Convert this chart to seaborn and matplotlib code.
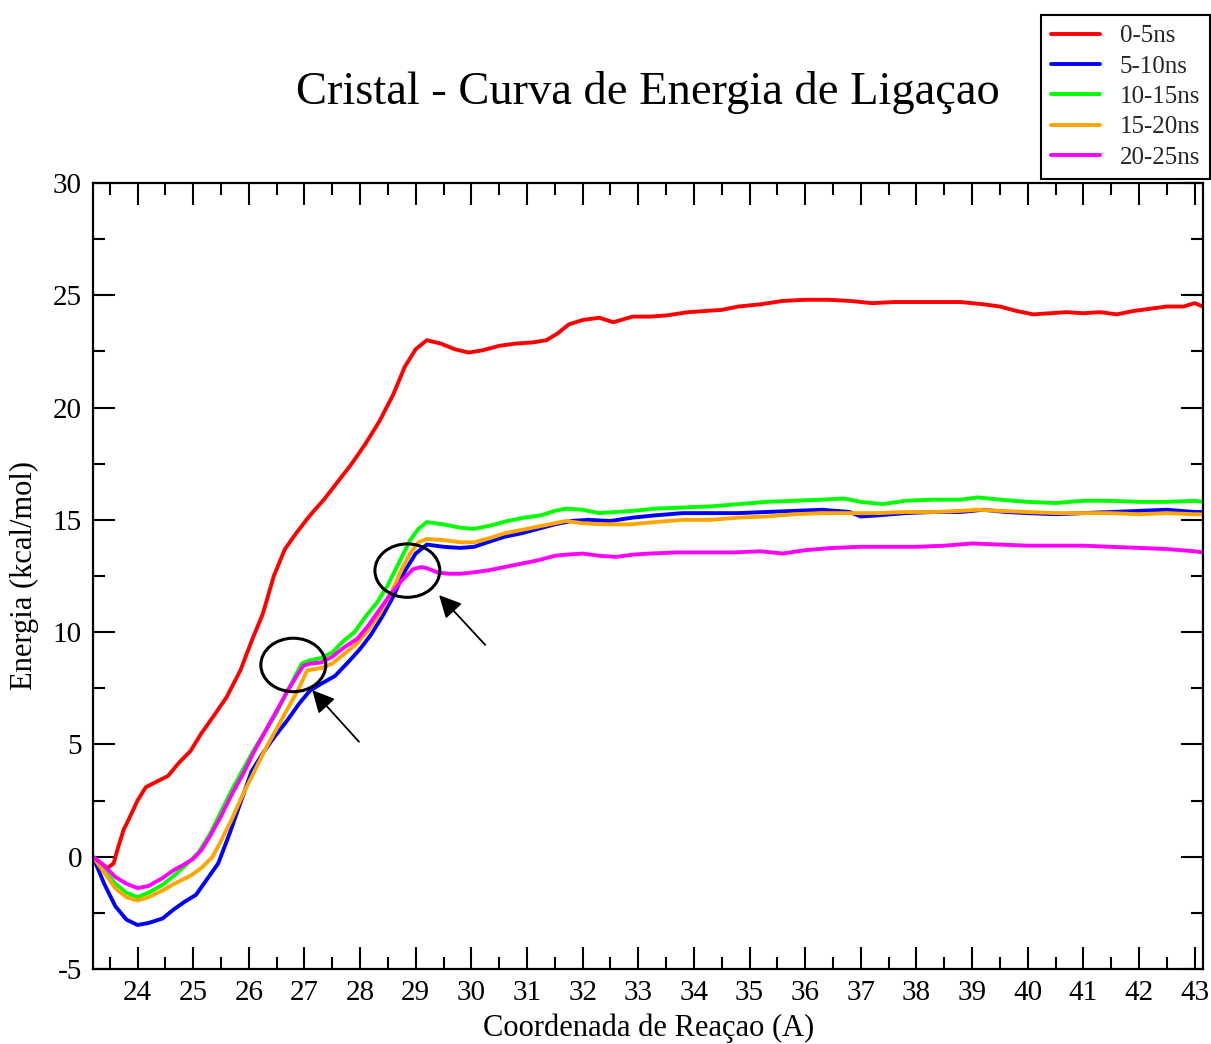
import numpy as np
import pandas as pd
import seaborn as sns
import matplotlib.pyplot as plt
from matplotlib.patches import Ellipse
from matplotlib.ticker import MultipleLocator

# Binding-energy profiles (kcal/mol) along the reaction coordinate (A), one per time window
x_0_5 = [23.2, 23.35, 23.46, 23.57, 23.65, 23.75, 23.85, 24.0, 24.15, 24.35, 24.55, 24.75, 24.95,
         25.15, 25.35, 25.6, 25.85, 26.05, 26.25, 26.45, 26.65, 26.85, 27.1, 27.35, 27.6, 27.85,
         28.1, 28.35, 28.6, 28.8, 29.0, 29.2, 29.45, 29.7, 29.95, 30.2, 30.5, 30.8, 31.1, 31.35,
         31.55, 31.75, 32.0, 32.3, 32.55, 32.9, 33.2, 33.5, 33.9, 34.2, 34.5, 34.8, 35.2, 35.6,
         36.0, 36.4, 36.8, 37.2, 37.6, 38.0, 38.4, 38.8, 39.2, 39.5, 39.8, 40.1, 40.4, 40.7, 41.0,
         41.3, 41.6, 41.9, 42.2, 42.5, 42.8, 43.0, 43.15]
e_0_5 = [0.0, -0.3, -0.5, -0.3, 0.4, 1.2, 1.7, 2.5, 3.1, 3.35, 3.6, 4.2, 4.7,
         5.5, 6.2, 7.1, 8.3, 9.6, 10.8, 12.5, 13.7, 14.4, 15.2, 15.9, 16.7, 17.5,
         18.4, 19.4, 20.6, 21.8, 22.6, 23.0, 22.85, 22.6, 22.45, 22.55, 22.75, 22.85, 22.9, 23.0,
         23.3, 23.7, 23.9, 24.0, 23.8, 24.05, 24.05, 24.1, 24.25, 24.3, 24.35, 24.5, 24.6, 24.75,
         24.8, 24.8, 24.75, 24.65, 24.7, 24.7, 24.7, 24.7, 24.6, 24.5, 24.3, 24.15, 24.2, 24.25, 24.2,
         24.25, 24.15, 24.3, 24.4, 24.5, 24.5, 24.65, 24.5]

x_5_10 = [23.2, 23.4, 23.6, 23.8, 24.0, 24.2, 24.45, 24.65, 24.85, 25.05, 25.25, 25.45, 25.65,
          25.85, 26.05, 26.25, 26.45, 26.7, 26.9, 27.1, 27.3, 27.55, 27.8, 28.0, 28.2, 28.4, 28.6,
          28.8, 29.0, 29.2, 29.5, 29.8, 30.05, 30.35, 30.6, 30.9, 31.2, 31.5, 31.8, 32.1, 32.5,
          32.9, 33.3, 33.8, 34.3, 34.8, 35.3, 35.8, 36.3, 36.8, 37.0, 37.3, 37.8, 38.3, 38.8, 39.2,
          39.6, 40.0, 40.5, 41.0, 41.5, 42.0, 42.5, 43.0, 43.15]
e_5_10 = [0.0, -1.2, -2.2, -2.8, -3.04, -2.95, -2.75, -2.35, -2.0, -1.7, -1.0, -0.3, 1.0,
          2.4, 3.8, 4.6, 5.3, 6.1, 6.8, 7.4, 7.7, 8.05, 8.7, 9.25, 9.9, 10.7, 11.6,
          12.7, 13.5, 13.9, 13.8, 13.75, 13.8, 14.05, 14.25, 14.4, 14.6, 14.8, 14.95, 15.0, 14.95,
          15.1, 15.2, 15.3, 15.3, 15.3, 15.35, 15.4, 15.45, 15.35, 15.15, 15.2, 15.3, 15.35, 15.35, 15.45,
          15.35, 15.3, 15.25, 15.3, 15.35, 15.4, 15.45, 15.35, 15.35]

x_10_15 = [23.2, 23.4, 23.6, 23.8, 24.0, 24.2, 24.45, 24.7, 24.9, 25.1, 25.3, 25.5, 25.7, 25.9,
           26.1, 26.3, 26.5, 26.7, 26.95, 27.1, 27.3, 27.5, 27.7, 27.9, 28.1, 28.3, 28.5, 28.7,
           28.9, 29.05, 29.2, 29.5, 29.8, 30.05, 30.35, 30.65, 30.95, 31.25, 31.5, 31.7, 32.0, 32.3,
           32.6, 32.9, 33.3, 33.8, 34.3, 34.8, 35.3, 35.8, 36.3, 36.7, 37.0, 37.4, 37.8, 38.3, 38.8,
           39.1, 39.5, 40.0, 40.5, 41.0, 41.5, 42.0, 42.5, 43.0, 43.15]
e_10_15 = [0.0, -0.6, -1.2, -1.6, -1.8, -1.6, -1.25, -0.75, -0.3, 0.2, 1.0, 2.0, 3.0, 3.9,
           4.8, 5.6, 6.4, 7.4, 8.6, 8.75, 8.85, 9.1, 9.6, 10.0, 10.7, 11.3, 12.1, 13.1,
           14.1, 14.6, 14.9, 14.8, 14.65, 14.6, 14.75, 14.95, 15.1, 15.2, 15.4, 15.5, 15.45, 15.3,
           15.35, 15.4, 15.5, 15.55, 15.6, 15.7, 15.8, 15.85, 15.9, 15.95, 15.8, 15.7, 15.85, 15.9, 15.9,
           16.0, 15.9, 15.8, 15.75, 15.85, 15.85, 15.8, 15.8, 15.85, 15.8]

x_15_20 = [23.2, 23.4, 23.6, 23.8, 24.0, 24.2, 24.45, 24.7, 24.95, 25.15, 25.35, 25.5, 25.7, 25.9,
           26.1, 26.3, 26.5, 26.7, 26.9, 27.05, 27.3, 27.5, 27.7, 27.95, 28.15, 28.35, 28.55, 28.75,
           28.9, 29.05, 29.2, 29.5, 29.8, 30.05, 30.35, 30.6, 30.9, 31.2, 31.5, 31.7, 32.0, 32.4,
           32.85, 33.3, 33.8, 34.3, 34.8, 35.3, 35.8, 36.3, 36.8, 37.3, 37.8, 38.3, 38.8, 39.1, 39.5,
           40.0, 40.5, 41.0, 41.5, 42.0, 42.5, 43.0, 43.15]
e_15_20 = [0.0, -0.7, -1.4, -1.8, -1.95, -1.8, -1.5, -1.15, -0.85, -0.5, 0.0, 0.7, 1.7, 2.8,
           3.8, 4.8, 5.7, 6.6, 7.5, 8.3, 8.4, 8.6, 9.0, 9.5, 10.1, 10.8, 11.7, 12.8,
           13.5, 14.0, 14.15, 14.1, 14.0, 14.0, 14.2, 14.4, 14.55, 14.7, 14.85, 14.95, 14.85, 14.8,
           14.8, 14.9, 15.0, 15.0, 15.1, 15.15, 15.25, 15.3, 15.3, 15.3, 15.35, 15.35, 15.4, 15.45, 15.4,
           15.35, 15.3, 15.3, 15.3, 15.25, 15.3, 15.25, 15.25]

x_20_25 = [23.2, 23.4, 23.6, 23.8, 24.0, 24.2, 24.45, 24.65, 24.8, 25.0, 25.15, 25.3, 25.5, 25.7,
           25.9, 26.1, 26.3, 26.5, 26.7, 26.85, 26.98, 27.1, 27.3, 27.5, 27.7, 27.95, 28.15, 28.35,
           28.55, 28.75, 28.95, 29.1, 29.2, 29.4, 29.6, 29.8, 30.0, 30.3, 30.6, 30.9, 31.2, 31.5,
           31.7, 32.0, 32.3, 32.6, 32.9, 33.2, 33.7, 34.2, 34.7, 35.2, 35.6, 36.0, 36.5, 37.0, 37.5,
           38.0, 38.5, 39.0, 39.5, 40.0, 40.5, 41.0, 41.5, 42.0, 42.5, 43.0, 43.15]
e_20_25 = [0.0, -0.4, -0.9, -1.2, -1.4, -1.3, -0.95, -0.6, -0.4, -0.1, 0.3, 0.9, 1.8, 2.8,
           3.7, 4.7, 5.6, 6.5, 7.4, 8.0, 8.5, 8.6, 8.65, 8.9, 9.3, 9.7, 10.3, 11.0,
           11.7, 12.3, 12.8, 12.9, 12.85, 12.65, 12.6, 12.6, 12.65, 12.75, 12.9, 13.05, 13.2, 13.4,
           13.45, 13.5, 13.4, 13.35, 13.45, 13.5, 13.55, 13.55, 13.55, 13.6, 13.5, 13.65, 13.75, 13.8, 13.8,
           13.8, 13.85, 13.95, 13.9, 13.85, 13.85, 13.85, 13.8, 13.75, 13.7, 13.6, 13.55]

series_names = ["0-5ns", "5-10ns", "10-15ns", "15-20ns", "20-25ns"]
series_x = [x_0_5, x_5_10, x_10_15, x_15_20, x_20_25]
series_e = [e_0_5, e_5_10, e_10_15, e_15_20, e_20_25]
colors = ["#FF0000", "#0000FF", "#00FF00", "#FFA500", "#FF00FF"]

x_ticks = list(range(24, 44))
y_ticks = [-5, 0, 5, 10, 15, 20, 25, 30]

df = pd.concat(
    [pd.DataFrame({"coord": xs, "energy": es, "janela": name})
     for name, xs, es in zip(series_names, series_x, series_e)],
    ignore_index=True,
)

sns.set_theme(style="ticks")
plt.rcParams["font.family"] = ["Liberation Serif", "DejaVu Serif"]
plt.rcParams["axes.unicode_minus"] = False

fig = plt.figure(figsize=(12.11, 10.44), dpi=100)
ax = fig.add_axes([93 / 1211, 1 - 969 / 1044, (1203 - 93) / 1211, (969 - 183) / 1044])

sns.lineplot(data=df, x="coord", y="energy", hue="janela", hue_order=series_names,
             palette=dict(zip(series_names, colors)), estimator=None, sort=True,
             linewidth=2.8, ax=ax, legend=True)

handles, labels = ax.get_legend_handles_labels()
ax.get_legend().remove()

ax.set_xlim(23.2, 43.15)
ax.set_ylim(-5, 30)
ax.set_xticks(x_ticks)
ax.set_yticks(y_ticks)
ax.xaxis.set_minor_locator(MultipleLocator(0.5))
ax.yaxis.set_minor_locator(MultipleLocator(2.5))
ax.tick_params(which="both", direction="in", top=True, right=True, width=1.5,
               color="black", labelsize=21, labelcolor="black")
ax.tick_params(which="major", length=16, pad=8)
ax.tick_params(which="minor", length=8.5)
for sp in ax.spines.values():
    sp.set_visible(True)
    sp.set_color("black")
    sp.set_linewidth(1.6)

ax.set_xlabel("Coordenada de Reaçao (A)", fontsize=22, color="black", va="center")
ax.set_ylabel("Energia (kcal/mol)", fontsize=22, color="black", va="center")
ax.xaxis.set_label_coords(0.501, -0.075)
ax.yaxis.set_label_coords(-0.0613, 0.501)

fig.text(0.535, 1 - 92 / 1044, "Cristal - Curva de Energia de Ligaçao",
         ha="center", va="center", fontsize=33.5, color="black")

# Highlighted regions with pointers
for cx, cy in [(26.80, 8.54), (28.85, 12.74)]:
    ax.add_patch(Ellipse((cx, cy), 1.167, 2.38, fill=False, edgecolor="black", linewidth=2.2, zorder=5))
for tip, tail in [((27.14, 7.42), (27.98, 5.12)), ((29.42, 11.65), (30.25, 9.43))]:
    ax.annotate("", xy=tip, xytext=tail,
                arrowprops=dict(arrowstyle="-|>", mutation_scale=34, lw=1.3, color="black",
                                shrinkA=0, shrinkB=0))

leg = fig.legend(handles, labels, loc="upper right",
                 bbox_to_anchor=(1210 / 1211, 1 - 15 / 1044),
                 fontsize=18, frameon=True, fancybox=False, framealpha=1,
                 edgecolor="black", handlelength=1.95, handletextpad=0.8,
                 labelspacing=0.31, borderpad=0.4, borderaxespad=0)
leg.get_frame().set_linewidth(1.5)
for line in leg.get_lines():
    line.set_linewidth(2.8)

fig.savefig("out.png", dpi=100, facecolor="white")
